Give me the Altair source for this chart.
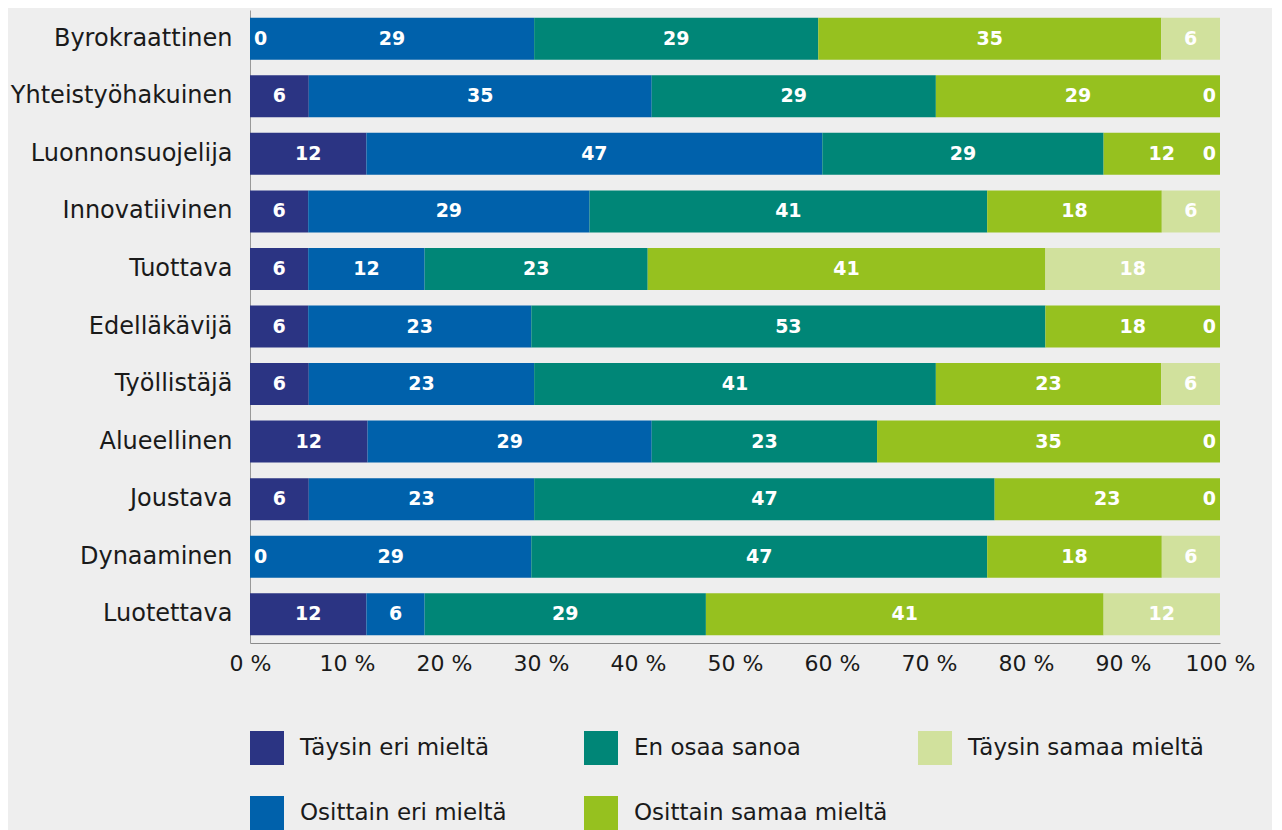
import altair as alt
import pandas as pd

categories = ["Byrokraattinen", "Yhteistyöhakuinen", "Luonnonsuojelija", "Innovatiivinen",
              "Tuottava", "Edelläkävijä", "Työllistäjä", "Alueellinen", "Joustava",
              "Dynaaminen", "Luotettava"]
series = ["Täysin eri mieltä", "Osittain eri mieltä", "En osaa sanoa",
          "Osittain samaa mieltä", "Täysin samaa mieltä"]
colors = ["#2b3483", "#0061ab", "#008677", "#96c11f", "#d1e19d"]

taysin_eri = [0, 6, 12, 6, 6, 6, 6, 12, 6, 0, 12]
osittain_eri = [29, 35, 47, 29, 12, 23, 23, 29, 23, 29, 6]
en_osaa = [29, 29, 29, 41, 23, 53, 41, 23, 47, 47, 29]
osittain_samaa = [35, 29, 12, 18, 41, 18, 23, 35, 23, 18, 41]
taysin_samaa = [6, 0, 0, 6, 18, 0, 6, 0, 0, 6, 12]

values = [taysin_eri, osittain_eri, en_osaa, osittain_samaa, taysin_samaa]

rows = []
for si, s in enumerate(series):
    for ci, c in enumerate(categories):
        rows.append({"category": c, "series": s, "sidx": si, "value": values[si][ci]})
df = pd.DataFrame(rows)

FONT = "DejaVu Sans"

base = alt.Chart(df).transform_stack(
    stack="value", groupby=["category"], as_=["v0", "v1"], offset="normalize",
    sort=[alt.SortField("sidx", order="ascending")]
).transform_calculate(
    mid="(datum.v0 + datum.v1) / 2"
).transform_calculate(
    lx="min(max(datum.mid, 0.011), 0.989)"
)

yenc = alt.Y("category:N", sort=categories, title=None,
             scale=alt.Scale(paddingInner=0.27, paddingOuter=0.135),
             axis=alt.Axis(ticks=False, domainColor="#999999", labelFontSize=24,
                           labelFont=FONT, labelColor="#1a1a1a", labelPadding=18,
                           labelLimit=300))

bars = base.mark_bar().encode(
    x=alt.X("v0:Q", scale=alt.Scale(domain=[0, 1], nice=False), title=None,
            axis=alt.Axis(values=[i / 10 for i in range(11)],
                          labelExpr="format(datum.value * 100, 'd') + ' %'",
                          grid=False, ticks=False, domainColor="#8a8a8a",
                          labelFontSize=22, labelFont=FONT, labelColor="#1a1a1a",
                          labelPadding=10, labelFlush=False)),
    x2="v1:Q",
    y=yenc,
    color=alt.Color("series:N", scale=alt.Scale(domain=series, range=colors),
                    legend=alt.Legend(title=None, orient="none", legendX=0, legendY=721,
                                      columns=3, gridAlign="all", columnPadding=30,
                                      rowPadding=31, symbolType="square", symbolSize=1156,
                                      symbolStrokeWidth=0, labelFontSize=23, labelFont=FONT,
                                      labelColor="#1a1a1a", labelOffset=16, labelLimit=400)),
)

labels = base.mark_text(color="white", fontWeight="bold", fontSize=19, font=FONT).encode(
    x="lx:Q",
    y=alt.Y("category:N", sort=categories),
    text=alt.Text("value:Q", format="d"),
)

chart = alt.layer(bars, labels).properties(
    width=970, height=633,
    background="#eeeeee",
    padding={"left": 242, "top": 2, "right": 52, "bottom": 187},
    autosize=alt.AutoSizeParams(type="none"),
).configure_view(stroke=None)

chart.save("out.html", embed_options={"renderer": "svg", "actions": False})
